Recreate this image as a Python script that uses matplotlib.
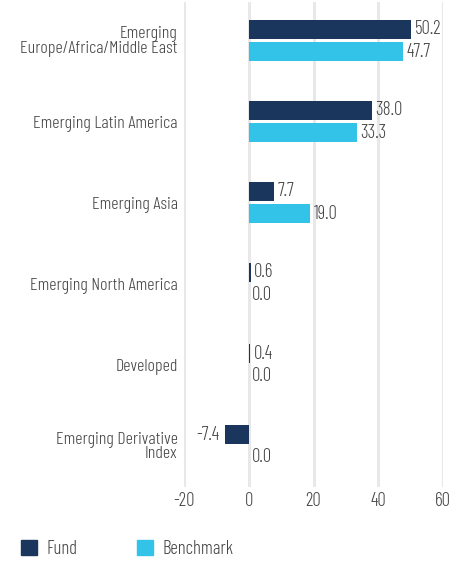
import matplotlib
matplotlib.use("Agg")
import matplotlib.pyplot as plt
from matplotlib.patches import Patch
import numpy as np

categories = ["Emerging\nEurope/Africa/Middle East", "Emerging Latin America", "Emerging Asia",
              "Emerging North America", "Developed", "Emerging Derivative\nIndex"]
fund = [50.2, 38.0, 7.7, 0.6, 0.4, -7.4]
benchmark = [47.7, 33.3, 19.0, 0.0, 0.0, 0.0]
series_names = ["Fund", "Benchmark"]
xticks = [-20, 0, 20, 40, 60]

plt.rcParams['font.family'] = ['Barlow Condensed', 'DejaVu Sans']
plt.rcParams['font.weight'] = 300

c_fund = "#1b365d"
c_bench = "#33c3e8"
tcol = "#454545"

fig = plt.figure(figsize=(4.63, 5.63), dpi=100)
ax = fig.add_axes([184/463, 1-487/563, (443-184)/463, (487-2)/563])

y = np.arange(len(categories))
h = 0.235
off = 0.137
ax.barh(y - off, fund, height=h, color=c_fund, zorder=3)
ax.barh(y + off, benchmark, height=h, color=c_bench, zorder=3)

fs = 13.5
fs_lab = 13
for yi, v in zip(y, fund):
    if v >= 0:
        ax.annotate(f"{v:.1f}", (v, yi - off), xytext=(2.5, 0), textcoords="offset points",
                    ha="left", va="center", color=tcol, fontsize=fs)
    else:
        ax.annotate(f"{v:.1f}", (v, yi - off), xytext=(-4, 0), textcoords="offset points",
                    ha="right", va="center", color=tcol, fontsize=fs)
for yi, v in zip(y, benchmark):
    ax.annotate(f"{v:.1f}", (v, yi + off), xytext=(2.5, 0), textcoords="offset points",
                ha="left", va="center", color=tcol, fontsize=fs)

ax.set_xlim(-20, 60)
ax.set_ylim(5.51, -0.475)
ax.set_xticks(xticks)
ax.set_xticklabels([str(t) for t in xticks], color=tcol, fontsize=fs)
ax.set_yticks(y)
ax.set_yticklabels(categories, color=tcol, fontsize=fs_lab, linespacing=0.85)
ax.tick_params(axis='y', length=0, pad=4.5)
ax.tick_params(axis='x', length=0, pad=3.5)
ax.xaxis.grid(True, color="#e8e8e8", linewidth=2.2, zorder=0)
ax.set_axisbelow(True)
for s in ax.spines.values():
    s.set_visible(False)

handles = [Patch(color=c_fund), Patch(color=c_bench)]
leg = fig.legend(handles, series_names, loc="lower left", bbox_to_anchor=(21/463, 5/563),
                 ncol=2, frameon=False, fontsize=fs, handlelength=0.85, handleheight=0.85,
                 columnspacing=3.2, handletextpad=0.5, borderpad=0, borderaxespad=0)
for t in leg.get_texts():
    t.set_color(tcol)

fig.savefig("out.png", dpi=100)
